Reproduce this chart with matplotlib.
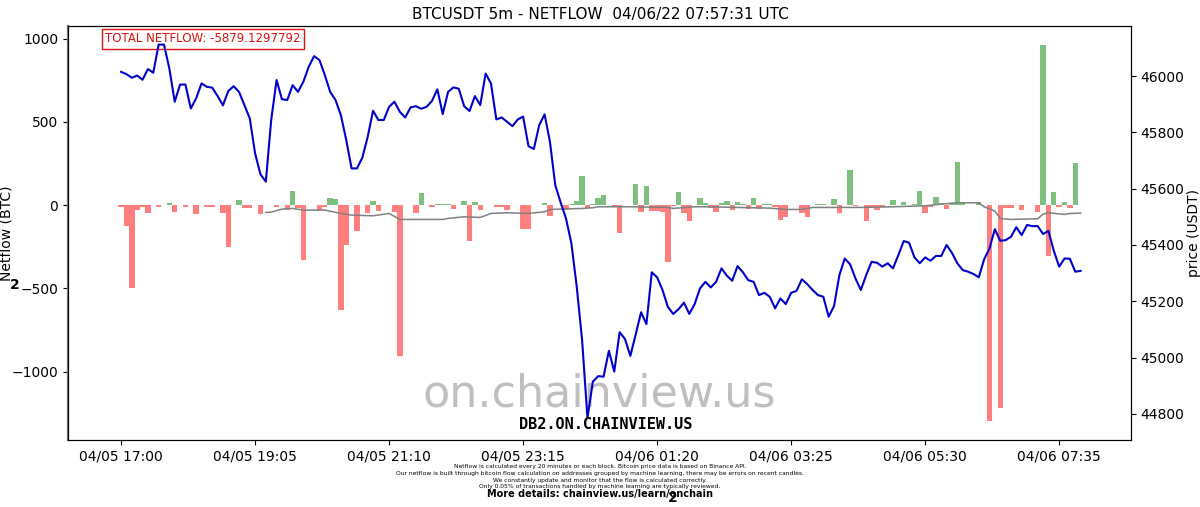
import matplotlib
matplotlib.use("Agg")
import matplotlib.pyplot as plt
import numpy as np

# ---------------- data ----------------
tick_labels = ['04/05 17:00', '04/05 19:05', '04/05 21:10', '04/05 23:15',
               '04/06 01:20', '04/06 03:25', '04/06 05:30', '04/06 07:35']
tick_index = [0, 25, 50, 75, 100, 125, 150, 175]

price = [46015, 46007, 45994, 46002, 45987, 46025, 46012, 46112, 46112, 46027,
         45909, 45970, 45970, 45885, 45921, 45974, 45962, 45959, 45929, 45896,
         45947, 45964, 45944, 45897, 45850, 45725, 45651, 45625, 45844, 45986,
         45918, 45915, 45968, 45944, 45980, 46033, 46071, 46057, 46004, 45944,
         45915, 45861, 45773, 45672, 45672, 45710, 45784, 45877, 45844, 45844,
         45891, 45909, 45873, 45853, 45889, 45893, 45884, 45891, 45912, 45953,
         45865, 45944, 45960, 45955, 45893, 45876, 45929, 45897, 46009, 45974,
         45846, 45853, 45838, 45822, 45846, 45856, 45751, 45741, 45826, 45864,
         45767, 45612, 45551, 45494, 45406, 45252, 45062, 44785, 44914, 44934,
         44932, 45024, 44950, 45090, 45066, 45006, 45082, 45161, 45119, 45303,
         45285, 45240, 45180, 45155, 45172, 45195, 45155, 45190, 45246, 45269,
         45249, 45269, 45317, 45291, 45273, 45325, 45303, 45275, 45269, 45222,
         45230, 45216, 45175, 45210, 45190, 45230, 45237, 45278, 45261, 45240,
         45222, 45216, 45145, 45183, 45293, 45352, 45331, 45281, 45240, 45293,
         45340, 45337, 45323, 45335, 45317, 45364, 45414, 45408, 45356, 45335,
         45356, 45344, 45361, 45361, 45400, 45372, 45335, 45311, 45305, 45297,
         45285, 45349, 45388, 45456, 45415, 45417, 45429, 45463, 45435, 45471,
         45467, 45467, 45439, 45450, 45379, 45323, 45352, 45351, 45305, 45308]

netflow = [-14, -124, -496, -30, -10, -50, 0, -14, 0, 10,
           -44, 0, -10, 0, -52, 0, -14, -14, 0, -50,
           -250, 0, 30, -20, -20, 0, -54, 0, 0, -10,
           0, -30, 84, -20, -330, 0, 0, -30, -10, 40,
           38, -630, -240, 0, -156, 0, -50, 24, -36, 0,
           0, -44, -904, 0, 0, -50, 70, 0, -14, 8,
           8, 6, -24, 0, 26, -214, 16, -30, 0, 0,
           -12, -12, -30, 0, 0, -144, -144, 0, 0, 10,
           -64, 0, 0, -32, 8, 26, 172, -16, 8, 40,
           60, 0, -10, -170, 0, 0, 124, -44, 116, -36,
           -36, -40, -340, -8, 80, -50, -96, 0, 44, 10,
           -20, -40, 14, 26, -30, 16, 6, -24, 40, -24,
           8, 8, -14, -90, -74, 0, 0, -50, -70, 0,
           8, 8, 0, 36, -46, 0, 210, -6, 0, -94,
           -10, -30, -10, 0, 30, 0, 16, 0, 6, 84,
           -50, -10, 50, 14, -24, 8, 256, 10, 0, 0,
           20, 0, -1294, 0, -1220, -20, -20, 0, -30, 0,
           0, -40, 960, -306, 80, -10, 16, -20, 250, 0]

gray_idx = [27, 28, 30, 32, 34, 38, 41, 43, 47, 50, 52, 60, 61, 64, 67, 69, 72,
            76, 79, 80, 82, 86, 88, 89, 95, 102, 103, 107, 109, 121, 124, 127,
            129, 138, 144, 150, 153, 156, 160, 161, 163, 164, 166, 171, 172, 173,
            176, 177, 179]
gray_val = [-44, -42, -24, -20, -30, -30, -50, -60, -64, -50, -86, -86, -80, -70,
            -74, -50, -46, -50, -40, -26, -24, -20, -16, -10, -10, -14, -20, -10,
            -10, -18, -26, -26, -14, -14, -10, -4, 6, 14, 14, -10, -36, -80, -86,
            -82, -54, -46, -56, -50, -48]

title = 'BTCUSDT 5m - NETFLOW  04/06/22 07:57:31 UTC'
total_text = 'TOTAL NETFLOW: -5879.1297792'
footer_lines = [
    'Netflow is calculated every 20 minutes or each block. Bitcoin price data is based on Binance API.',
    'Our netflow is built through bitcoin flow calculation on addresses grouped by machine learning, there may be errors on recent candles.',
    'We constantly update and monitor that the flow is calculated correctly.',
    'Only 0.05% of transactions handled by machine learning are typically reviewed.',
]

# ---------------- plot ----------------
fig = plt.figure(figsize=(12, 5.07), dpi=100)
ax = fig.add_axes([0.0567, 0.1321, 0.8858, 0.8166])
ax2 = ax.twinx()

x = np.arange(len(price))
nf = np.array(netflow)
colors = ['green' if v > 0 else 'red' for v in nf]
ax.bar(x, nf, width=1.0, color=colors, alpha=0.5, zorder=2)
ax.plot(gray_idx, gray_val, color='gray', lw=1.1, zorder=3)
ax.set_ylim(-1410, 1075)
ax.set_xlim(-9.9, 188.4)
ax.set_yticks([-1000, -500, 0, 500, 1000])
ax.set_ylabel('Netflow (BTC)', fontsize=10)
ax.yaxis.set_label_coords(-0.051, 0.5)
ax.set_xticks(tick_index)
ax.set_xticklabels(tick_labels, fontsize=10)
ax.tick_params(axis='y', labelsize=10)

ax.text(0.5, 0.11, 'on.chainview.us', transform=ax.transAxes, ha='center', va='center',
        fontsize=32, color='gray', alpha=0.5, zorder=0)

ax2.plot(x, price, color='#0000cc', lw=1.5)
ax2.set_ylim(44707, 46178)
ax2.set_yticks([44800, 45000, 45200, 45400, 45600, 45800, 46000])
ax2.set_ylabel('price (USDT)', fontsize=10)
ax2.yaxis.set_label_coords(1.0527, 0.5)
ax2.tick_params(axis='y', labelsize=10)

ax.spines['left'].set_color('#777777')
ax.spines['left'].set_linewidth(1.6)

ax.text(0.035, 0.969, total_text, transform=ax.transAxes, ha='left', va='center',
        fontsize=8.5, color='#dd1111',
        bbox=dict(facecolor='white', edgecolor='#dd1111', boxstyle='square,pad=0.3'),
        zorder=10)

fig.text(0.5, 0.972, title, ha='center', va='center', fontsize=11)
fig.text(0.505, 0.162, 'DB2.ON.CHAINVIEW.US', ha='center', va='center', fontsize=11,
         fontweight='bold', family='DejaVu Sans Mono')

ys = [0.079, 0.066, 0.053, 0.040]
for yy, line in zip(ys, footer_lines):
    fig.text(0.5, yy, line, ha='center', va='center', fontsize=4.3)
fig.text(0.5, 0.026, 'More details: chainview.us/learn/onchain', ha='center', va='center',
         fontsize=7, fontweight='bold')
fig.text(0.561, 0.018, '2', ha='center', va='center', fontsize=10, fontweight='bold')
fig.text(0.012, 0.437, '2', ha='center', va='center', fontsize=10, fontweight='bold')

fig.savefig('out.png', dpi=100)
